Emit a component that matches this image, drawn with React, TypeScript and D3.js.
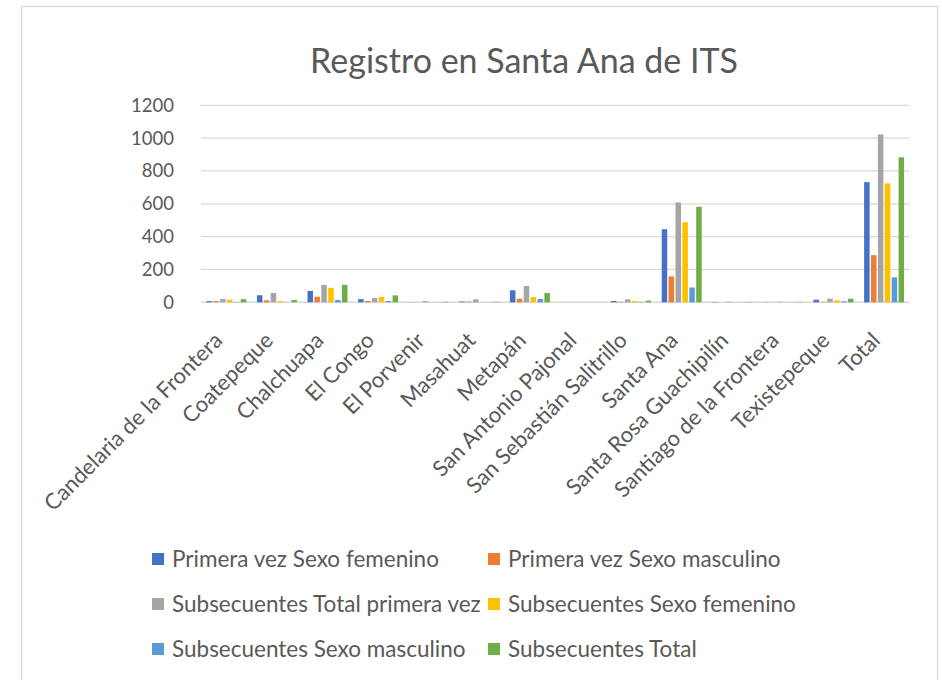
import React from "react";
import * as d3 from "d3";

const categories = [
  "Candelaria de la Frontera",
  "Coatepeque",
  "Chalchuapa",
  "El Congo",
  "El Porvenir",
  "Masahuat",
  "Metapán",
  "San Antonio Pajonal",
  "San Sebastián Salitrillo",
  "Santa Ana",
  "Santa Rosa Guachipilín",
  "Santiago de la Frontera",
  "Texistepeque",
  "Total",
];

const seriesNames = [
  "Primera vez  Sexo femenino",
  "Primera vez  Sexo masculino",
  "Subsecuentes Total primera vez",
  "Subsecuentes Sexo femenino",
  "Subsecuentes Sexo masculino",
  "Subsecuentes Total",
];

const primeraFemenino = [7, 43, 69, 19, 1, 5, 73, 0, 8, 445, 2, 1, 16, 732];
const primeraMasculino = [7, 12, 34, 8, 0, 4, 22, 0, 3, 158, 0, 0, 2, 287];
const subsTotalPrimera = [20, 57, 106, 27, 7, 18, 99, 0, 18, 608, 3, 3, 22, 1023];
const subsFemenino = [16, 7, 88, 33, 1, 1, 32, 0, 8, 488, 1, 1, 12, 724];
const subsMasculino = [2, 1, 14, 8, 1, 1, 20, 0, 2, 90, 1, 1, 6, 152];
const subsTotal = [19, 14, 106, 42, 3, 3, 57, 0, 10, 582, 2, 2, 22, 883];

const seriesValues = [
  primeraFemenino,
  primeraMasculino,
  subsTotalPrimera,
  subsFemenino,
  subsMasculino,
  subsTotal,
];

const colors = ["#4472C4", "#ED7D31", "#A5A5A5", "#FFC000", "#5B9BD5", "#70AD47"];

const yTicks = [0, 200, 400, 600, 800, 1000, 1200];

const FONT = "Lato, 'Open Sans', sans-serif";
const TEXT = "#595959";

export default function App() {
  const W = 942;
  const H = 680;
  const left = 201;
  const right = 909.4;
  const y0 = 302.3;
  const yTop = 105.3;

  const x0 = d3
    .scaleBand<string>()
    .domain(categories)
    .range([left, right])
    .paddingInner(0.21)
    .paddingOuter(0.105);
  const x1 = d3
    .scaleBand<string>()
    .domain(seriesNames)
    .range([0, x0.bandwidth()])
    .paddingInner(0.2);
  const y = d3.scaleLinear().domain([0, 1200]).range([y0, yTop]);

  const legendCols = [152, 488];
  const legendRows = [559, 604, 649];

  return (
    <svg
      width={W}
      height={H}
      style={{ position: "absolute", left: 0, top: 0, background: "#fff" }}
      fontFamily={FONT}
    >
      <rect x={0} y={0} width={W} height={H} fill="#fff" />
      <rect
        x={21.5}
        y={6.5}
        width={916}
        height={700}
        fill="#fff"
        stroke="#d9d9d9"
        strokeWidth={1.3}
      />
      <text x={524} y={73} textAnchor="middle" fontSize={34} fill={TEXT}>
        Registro en Santa Ana de ITS
      </text>

      {yTicks.map((t) => (
        <g key={t}>
          <line
            x1={left}
            x2={right}
            y1={y(t)}
            y2={y(t)}
            stroke="#d9d9d9"
            strokeWidth={t === 0 ? 1.6 : 1.3}
          />
          <text
            x={174}
            y={y(t)}
            dy="0.35em"
            textAnchor="end"
            fontSize={18.5}
            fill={TEXT}
          >
            {t}
          </text>
        </g>
      ))}

      {categories.map((c, ci) => (
        <g key={c} transform={`translate(${x0(c)},0)`}>
          {seriesNames.map((s, si) => {
            const v = seriesValues[si][ci];
            return (
              <rect
                key={s}
                x={x1(s)}
                y={y(v)}
                width={x1.bandwidth()}
                height={y0 - y(v)}
                fill={colors[si]}
              />
            );
          })}
        </g>
      ))}

      {categories.map((c) => {
        const cx = (x0(c) as number) + x0.bandwidth() / 2;
        return (
          <text
            key={c}
            transform={`translate(${cx - 8},${y0 + 34}) rotate(-45)`}
            textAnchor="end"
            dy="0.35em"
            fontSize={22}
            fill={TEXT}
          >
            {c}
          </text>
        );
      })}

      {seriesNames.map((s, i) => {
        const lx = legendCols[i % 2];
        const ly = legendRows[Math.floor(i / 2)];
        return (
          <g key={s}>
            <rect x={lx} y={ly - 6} width={12} height={12} fill={colors[i]} />
            <text x={lx + 20} y={ly} dy="0.35em" fontSize={22.5} fill={TEXT}>
              {s}
            </text>
          </g>
        );
      })}
    </svg>
  );
}
